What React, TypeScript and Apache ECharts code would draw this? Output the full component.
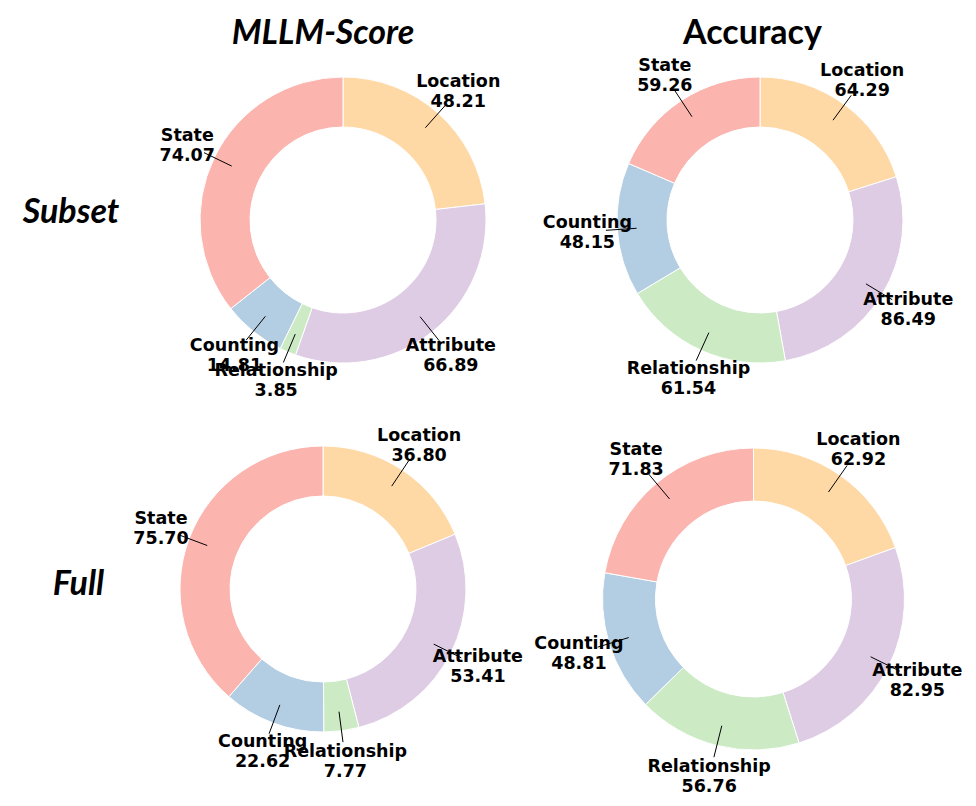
import React, { useEffect, useRef } from "react";
import * as echarts from "echarts";

const categories = ["Location", "Attribute", "Relationship", "Counting", "State"];
const subsetMllm = [48.21, 66.89, 3.85, 14.81, 74.07];
const subsetAcc = [64.29, 86.49, 61.54, 48.15, 59.26];
const fullMllm = [36.8, 53.41, 7.77, 22.62, 75.7];
const fullAcc = [62.92, 82.95, 56.76, 48.81, 71.83];
const colTitles = ["MLLM-Score", "Accuracy"];
const rowTitles = ["Subset", "Full"];
const colors = ["#fed9a6", "#decbe4", "#ccebc5", "#b3cde3", "#fbb4ae"];

export default function App() {
  const ref = useRef<HTMLDivElement>(null);
  useEffect(() => {
    document.body.style.margin = "0";
    const chart = echarts.init(ref.current!, null, { renderer: "svg" });

    const pies = [
      { values: subsetMllm, cx: 343, cy: 220, R: 143, r: 93 },
      { values: subsetAcc, cx: 760, cy: 220, R: 143, r: 93 },
      { values: fullMllm, cx: 323, cy: 589, R: 143, r: 93 },
      { values: fullAcc, cx: 753.5, cy: 599, R: 151, r: 98 },
    ];

    const polar = (p: any, idx: number, k: number) => {
      const total = p.values.reduce((a: number, b: number) => a + b, 0);
      let cum = 0;
      for (let i = 0; i < idx; i++) cum += p.values[i];
      const th = (2 * Math.PI * (cum + p.values[idx] / 2)) / total;
      return [p.cx + k * p.R * Math.sin(th), p.cy - k * p.R * Math.cos(th)];
    };

    const series = pies.map((p) => ({
      type: "pie",
      center: [p.cx, p.cy],
      radius: [p.r, p.R],
      startAngle: 90,
      clockwise: true,
      silent: true,
      avoidLabelOverlap: false,
      itemStyle: { borderColor: "#ffffff", borderWidth: 1 },
      emphasis: { disabled: true },
      z: 1,
      label: {
        show: true,
        position: "outside",
        formatter: (d: any) => `${d.name}\n${Number(d.value).toFixed(2)}`,
        color: "#000",
        fontFamily: "DejaVu Sans",
        fontWeight: "bold",
        fontSize: 17.5,
        lineHeight: 20,
        align: "center",
      },
      labelLine: { show: false },
      labelLayout: (params: any) => {
        const c = polar(p, params.dataIndex, 1.21);
        return { x: c[0], y: c[1], align: "center", verticalAlign: "middle" };
      },
      data: categories.map((name, i) => ({
        name,
        value: p.values[i],
        itemStyle: { color: colors[i] },
      })),
    }));

    const leaderLines: any[] = [];
    pies.forEach((p) => {
      p.values.forEach((_v: number, i: number) => {
        const a = polar(p, i, 0.865);
        const b = polar(p, i, 1.08);
        leaderLines.push({
          type: "line",
          z: 100,
          silent: true,
          shape: { x1: a[0], y1: a[1], x2: b[0], y2: b[1] },
          style: { stroke: "#000", lineWidth: 1 },
        });
      });
    });

    const titleFont = "italic bold 34px Lato";
    chart.setOption({
      animation: false,
      backgroundColor: "#ffffff",
      graphic: [
        {
          type: "text",
          x: 323,
          y: 30,
          style: { text: colTitles[0], font: titleFont, fill: "#000", textAlign: "center", textVerticalAlign: "middle" },
        },
        {
          type: "text",
          x: 752.5,
          y: 30,
          style: { text: colTitles[1], font: "bold 34px Lato", fill: "#000", textAlign: "center", textVerticalAlign: "middle" },
        },
        {
          type: "text",
          x: 71,
          y: 209,
          style: { text: rowTitles[0], font: titleFont, fill: "#000", textAlign: "center", textVerticalAlign: "middle" },
        },
        {
          type: "text",
          x: 78.5,
          y: 581,
          style: { text: rowTitles[1], font: titleFont, fill: "#000", textAlign: "center", textVerticalAlign: "middle" },
        },
        ...leaderLines,
      ],
      series,
    });
    return () => chart.dispose();
  }, []);
  return <div ref={ref} style={{ width: 976, height: 806 }} />;
}
